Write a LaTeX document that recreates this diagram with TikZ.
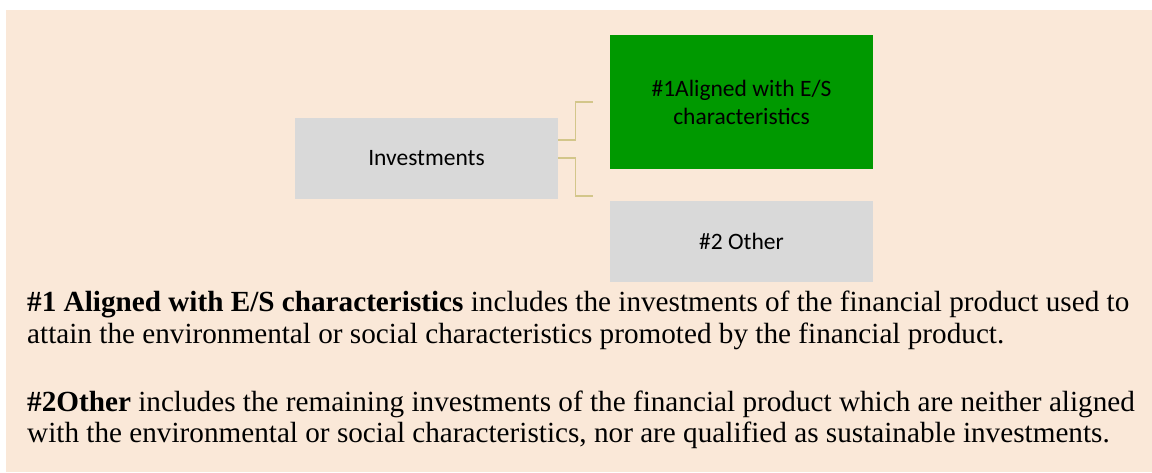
\documentclass[tikz,border=0pt]{standalone}
\usepackage{fontspec}
\setmainfont{Liberation Serif}
\newfontfamily\boxfont{Carlito}
\usepackage{tikz}
\usetikzlibrary{positioning}
\usepackage{xcolor}

\definecolor{pagebg}{HTML}{FAE8D8}
\definecolor{boxgray}{HTML}{D9D9D9}
\definecolor{boxgreen}{HTML}{009900}
\definecolor{linktan}{HTML}{D3C68A}

\begin{document}
\begin{tikzpicture}[
    x=1pt, y=-1pt,
    catbox/.style = {rectangle, fill=boxgray, draw=none, inner sep=0pt, minimum width=263pt, minimum height=81pt, align=center, font=\boxfont\fontsize{23.5}{28}\selectfont},
    link/.style = {draw=linktan, line width=1.3pt},
    para/.style = {anchor=base west, inner sep=0pt, font=\fontsize{29.2}{31}\selectfont}
]

% Frame and page colour
\useasboundingbox (0,0) rectangle (1152,472);
\fill[pagebg] (6,10) rectangle (1152,472);

% Tree: Investments on the left, two categories on the right
\node (inv) [catbox] at (426.5, 158.5) {Investments};
\node (aligned) [catbox, fill=boxgreen, minimum height=134pt] at (741.5, 102) {\#1Aligned with E/S\\characteristics};
\node (other) [catbox, below=32pt of aligned] {\#2 Other};

% Bracket ends (the connectors stop short of the boxes)
\coordinate (upEnd) at (593, 102);
\coordinate (loEnd) at (593, 196);

% Connectors
\draw [link] ([yshift=18.5pt]inv.east) -- ++(17,0) |- (upEnd);
\draw [link] ([yshift=0.5pt]inv.east) -- ++(17,0) |- (loEnd);

% Explanation paragraphs
\node (def1a) [para] at (27, 311) {\textbf{\#1 Aligned with E/S characteristics} includes the investments of the financial product used to};
\node (def1b) [para] at (27, 343) {attain the environmental or social characteristics promoted by the financial product.};
\node (def2a) [para] at (27, 411) {\textbf{\#2Other} includes the remaining investments of the financial product which are neither aligned};
\node (def2b) [para] at (27, 442) {with the environmental or social characteristics, nor are qualified as sustainable investments.};

\end{tikzpicture}
\end{document}
